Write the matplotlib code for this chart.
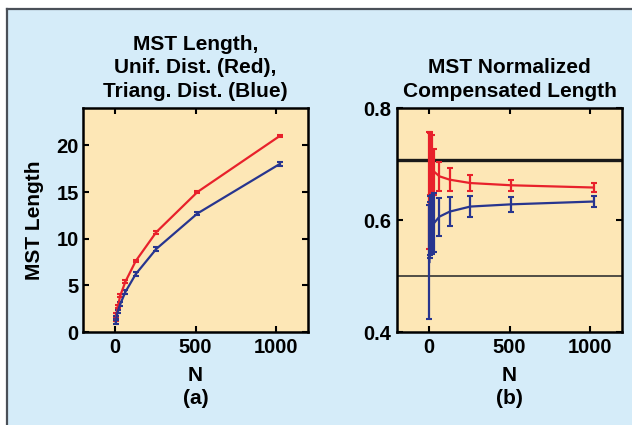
import numpy as np
import matplotlib.pyplot as plt
from matplotlib.patches import Rectangle
from matplotlib.lines import Line2D

plt.rcParams['font.family'] = ['Liberation Sans', 'DejaVu Sans']
plt.rcParams['font.weight'] = 'bold'

# panel (a): MST length vs N
n_a = [4, 8, 16, 32, 64, 128, 256, 512, 1024]
red_a = [1.35, 1.9, 2.7, 3.9, 5.4, 7.6, 10.7, 15.0, 21.0]
red_a_err = [0.15, 0.15, 0.15, 0.15, 0.15, 0.15, 0.15, 0.15, 0.15]
blue_a = [1.1, 1.55, 2.2, 3.0, 4.3, 6.2, 8.9, 12.7, 18.0]
blue_a_err = [0.2, 0.2, 0.2, 0.2, 0.2, 0.2, 0.2, 0.2, 0.2]

# panel (b): normalized compensated length
n_b = [2, 4, 8, 16, 32, 64, 128, 256, 512, 1024]
red_b = [0.653, 0.700, 0.700, 0.698, 0.686, 0.678, 0.672, 0.666, 0.662, 0.658]
red_b_err = [0.104, 0.057, 0.055, 0.053, 0.041, 0.026, 0.020, 0.014, 0.010, 0.008]
blue_b = [0.525, 0.583, 0.590, 0.592, 0.595, 0.606, 0.615, 0.624, 0.628, 0.633]
blue_b_err = [0.102, 0.05, 0.053, 0.053, 0.053, 0.034, 0.026, 0.018, 0.013, 0.009]
ref_hi = 0.7071
ref_lo = 0.5

RED = '#e8212b'
BLUE = '#27358f'
PANEL = '#fde7b6'
BG = '#d5ecf9'

fig = plt.figure(figsize=(6.32, 4.25), dpi=100)
fig.patch.set_facecolor('white')
W, H = 632, 425
fig.patches.append(Rectangle((7 / W, 0), 1, (H - 9) / H, transform=fig.transFigure,
                             facecolor=BG, edgecolor='none', zorder=-10))
fig.lines.append(Line2D([7 / W, 1], [(H - 9) / H] * 2, transform=fig.transFigure,
                        color='#4a5058', lw=1.6))
fig.lines.append(Line2D([7 / W] * 2, [0, (H - 9) / H], transform=fig.transFigure,
                        color='#4a5058', lw=1.6))


def style(ax):
    ax.set_facecolor(PANEL)
    for s in ax.spines.values():
        s.set_linewidth(1.8)
    ax.tick_params(direction='in', top=True, right=True, width=1.5, length=4,
                   labelsize=14.5, pad=4)
    ax.set_xlim(-200, 1200)
    ax.set_xticks([0, 500, 1000])


ax1 = fig.add_axes([83 / W, (H - 332) / H, 225 / W, 224 / H])
style(ax1)
ax1.errorbar(n_a, red_a, yerr=red_a_err, color=RED, lw=1.6, capsize=2, capthick=1.5)
ax1.errorbar(n_a, blue_a, yerr=blue_a_err, color=BLUE, lw=1.6, capsize=2, capthick=1.5)
ax1.set_ylim(0, 24)
ax1.set_yticks([0, 5, 10, 15, 20])
ax1.tick_params(axis='y', pad=3)
ax1.set_title('MST Length,\nUnif. Dist. (Red),\nTriang. Dist. (Blue)', fontsize=15,
              fontweight='bold', pad=8, linespacing=1.3)
ax1.set_ylabel('MST Length', fontsize=15, fontweight='bold', labelpad=9)
ax1.set_xlabel('N\n(a)', fontsize=15, fontweight='bold', labelpad=7, linespacing=1.25)

ax2 = fig.add_axes([397 / W, (H - 332) / H, 225 / W, 224 / H])
style(ax2)
ax2.axhline(ref_hi, color='#1a1a1a', lw=2.4)
ax2.axhline(ref_lo, color='#333333', lw=1.2)
ax2.errorbar(n_b, red_b, yerr=red_b_err, color=RED, lw=1.6, capsize=2.5, capthick=1.5)
ax2.errorbar(n_b, blue_b, yerr=blue_b_err, color=BLUE, lw=1.6, capsize=2.5, capthick=1.5)
ax2.set_ylim(0.4, 0.8)
ax2.set_yticks([0.4, 0.6, 0.8])
ax2.set_yticklabels(['0.4', '0.6', '0.8'])
ax2.set_title('MST Normalized\nCompensated Length', fontsize=15, fontweight='bold',
              pad=8, linespacing=1.3)
ax2.set_xlabel('N\n(b)', fontsize=15, fontweight='bold', labelpad=7, linespacing=1.25)

fig.savefig('out.png', dpi=100, facecolor=fig.get_facecolor())
